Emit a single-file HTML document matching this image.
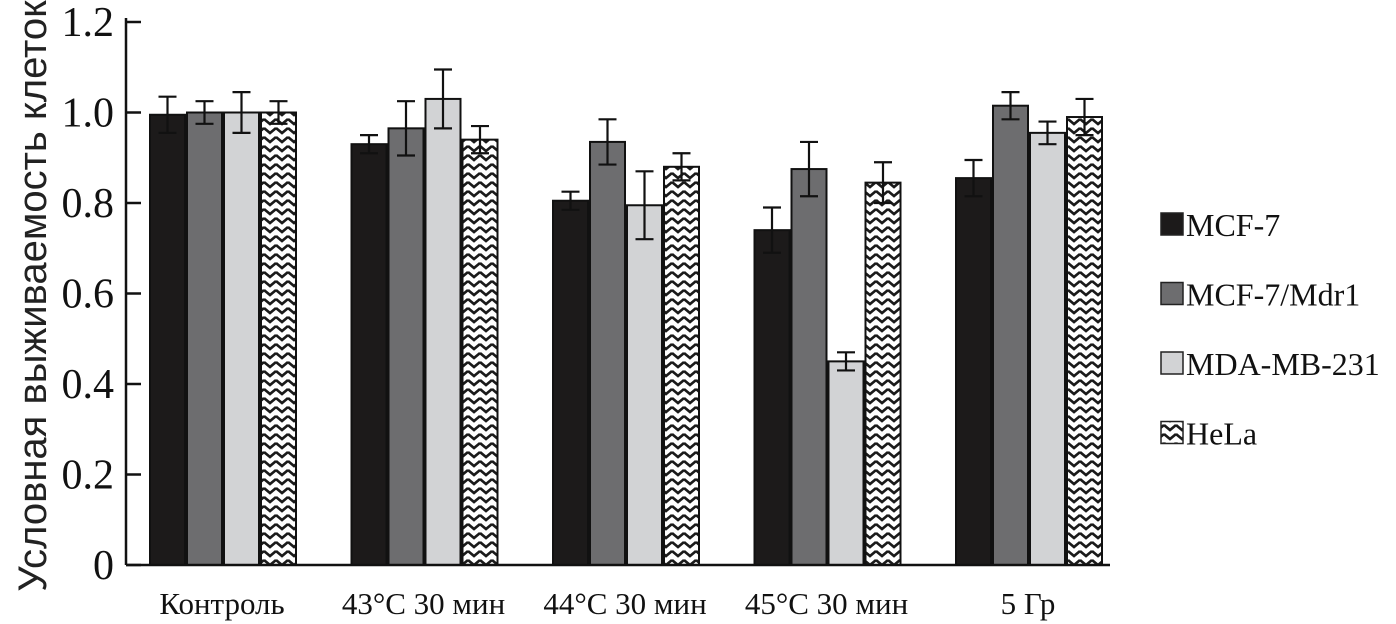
<!DOCTYPE html>
<html><head><meta charset="utf-8"><style>
html,body{margin:0;padding:0;background:#fff;}
svg{display:block;}
</style></head><body>
<svg id="chart" width="1396" height="624" xmlns="http://www.w3.org/2000/svg">
<defs>
<pattern id="zig" width="12" height="9" patternUnits="userSpaceOnUse">
<rect width="12" height="9" fill="#fff"/>
<polyline points="0,2 6,7 12,2" fill="none" stroke="#1a1a1a" stroke-width="2.6"/>
</pattern>
</defs>
<g id="plot"></g>
</svg>
<script>
const categories=["Контроль","43°C 30 мин","44°C 30 мин","45°C 30 мин","5 Гр"];
const seriesNames=["MCF-7","MCF-7/Mdr1","MDA-MB-231","HeLa"];
const mcf7=[0.995,0.93,0.805,0.74,0.855];
const mcf7Err=[0.04,0.02,0.02,0.05,0.04];
const mdr1=[1.0,0.965,0.935,0.875,1.015];
const mdr1Err=[0.025,0.06,0.05,0.06,0.03];
const mda=[1.0,1.03,0.795,0.45,0.955];
const mdaErr=[0.045,0.065,0.075,0.02,0.025];
const hela=[1.0,0.94,0.88,0.845,0.99];
const helaErr=[0.025,0.03,0.03,0.045,0.04];
const yTicks=[0,0.2,0.4,0.6,0.8,1.0,1.2];
const yTickLabels=["0","0.2","0.4","0.6","0.8","1.0","1.2"];

const NS="http://www.w3.org/2000/svg";
const g=document.getElementById('plot');
const y0=565,yTop=22,yMax=1.2;
function yS(v){return y0-(v/yMax)*(y0-yTop);}
const groupStart=150,groupStep=201.5,barW=35,barStep=37;
function xS(gi,si){return groupStart+gi*groupStep+si*barStep;}
function mk(tag,attrs){const e=document.createElementNS(NS,tag);for(const k in attrs)e.setAttribute(k,attrs[k]);g.appendChild(e);return e;}
const fills=["#1c1a1a","#6d6d6f","#d2d3d5","url(#zig)"];
const vals=[mcf7,mdr1,mda,hela];
const errs=[mcf7Err,mdr1Err,mdaErr,helaErr];
const keys=["mcf7","mdr1","mda","hela"];

const ya=mk('line',{x1:126,y1:yTop-4,x2:126,y2:y0,stroke:'#111','stroke-width':2.5});


yTicks.forEach((t,i)=>{
 const tk=mk('line',{x1:126,y1:yS(t),x2:141,y2:yS(t),stroke:'#111','stroke-width':2.5});
 
 
 const tl=mk('text',{x:114,y:yS(t)+14,'text-anchor':'end','font-family':'Liberation Serif, serif','font-size':42,fill:'#111'});
 tl.textContent=yTickLabels[i];
 
 
});
const yt=mk('text',{x:0,y:0,transform:'translate(46,296) rotate(-90)','text-anchor':'middle','font-family':'Liberation Sans, sans-serif','font-size':40,fill:'#222'});
yt.textContent="Условная выживаемость клеток";



categories.forEach((c,gi)=>{
 for(let si=0;si<4;si++){
  const v=vals[si][gi],e=errs[si][gi];
  const x=xS(gi,si);
  const r=mk('rect',{x:x,y:yS(v),width:barW,height:y0-yS(v),fill:fills[si],stroke:'#111','stroke-width':2});
  
  
  const cx=x+barW/2;
  const eb=mk('path',{d:`M${cx-9},${yS(v+e)}H${cx+9}M${cx},${yS(v+e)}V${yS(v-e)}M${cx-9},${yS(v-e)}H${cx+9}`,stroke:'#111','stroke-width':2.2,fill:'none'});
  
  
 }
 const cl=mk('text',{x:xS(gi,0)+72,y:614,'text-anchor':'middle','font-family':'Liberation Serif, serif','font-size':31,fill:'#111'});
 cl.textContent=c;
 
 
});
const xa=mk('line',{x1:126,y1:y0,x2:1110,y2:y0,stroke:'#111','stroke-width':2.5});



seriesNames.forEach((n,i)=>{
 const ly=213+i*69.5;
 const sq=mk('rect',{x:1161,y:ly,width:22,height:22,fill:fills[i],stroke:'#222','stroke-width':1.5});
 
 
 const lt=mk('text',{x:1186,y:ly+23,'font-family':'Liberation Serif, serif','font-size':32,fill:'#111'});
 lt.textContent=n;
 
 
});
</script>
</body></html>
